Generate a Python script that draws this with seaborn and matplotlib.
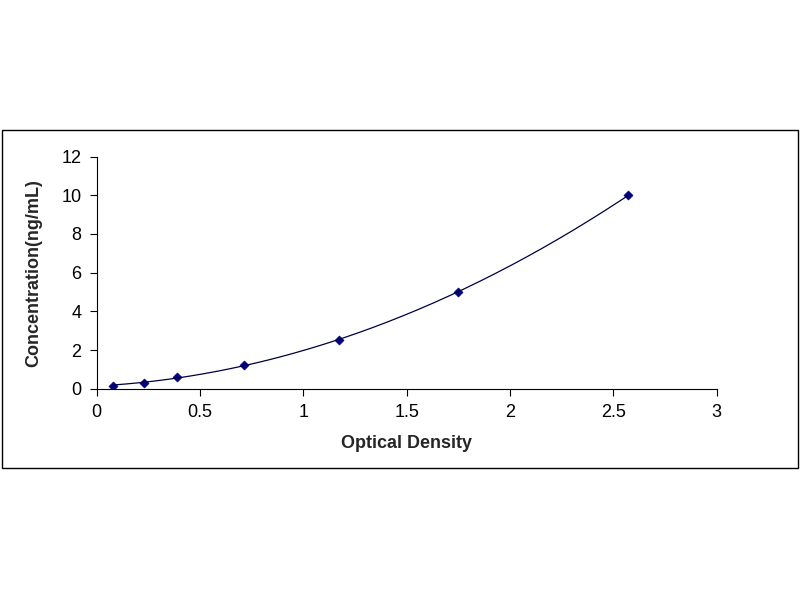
import numpy as np
import matplotlib
matplotlib.use("Agg")
import matplotlib.pyplot as plt
import seaborn as sns
from matplotlib.patches import Rectangle

# standard curve points
od = [0.08, 0.23, 0.39, 0.71, 1.17, 1.75, 2.57]
conc = [0.156, 0.312, 0.625, 1.25, 2.5, 5.0, 10.0]

sns.set_style("white")
plt.rcParams["font.family"] = ["Liberation Sans", "DejaVu Sans"]

fig = plt.figure(figsize=(8, 6), dpi=100)
fig.patches.append(Rectangle((0.003, 0.22), 0.994, 0.563, transform=fig.transFigure,
                             fill=False, edgecolor="black", linewidth=1))
ax = fig.add_axes([0.121, 0.352, 0.775, 0.387])

# fitted trend line through the standards
coef = np.polyfit(od, conc, 2)
xs = np.linspace(min(od), max(od), 200)
sns.lineplot(x=xs, y=np.polyval(coef, xs), ax=ax, color="#000040", linewidth=0.9)
sns.scatterplot(x=od, y=conc, ax=ax, marker="D", s=22, color="#000080", edgecolor="#000080")

ax.set_xlim(0, 3)
ax.set_ylim(0, 12)
ax.set_xticks([0, 0.5, 1, 1.5, 2, 2.5, 3])
ax.set_xticklabels(["0", "0.5", "1", "1.5", "2", "2.5", "3"])
ax.set_yticks(range(0, 13, 2))
for s in ["top", "right"]:
    ax.spines[s].set_visible(False)
for s in ["left", "bottom"]:
    ax.spines[s].set_color("black")
    ax.spines[s].set_linewidth(0.8)
ax.tick_params(direction="out", length=5, width=0.8, labelsize=13, colors="black",
               left=True, bottom=True, pad=6)
ax.set_xlabel("Optical Density", fontsize=13, fontweight="bold", labelpad=10)
ax.set_ylabel("Concentration(ng/mL)", fontsize=13, fontweight="bold", labelpad=14)

plt.savefig("out.png", dpi=100)
